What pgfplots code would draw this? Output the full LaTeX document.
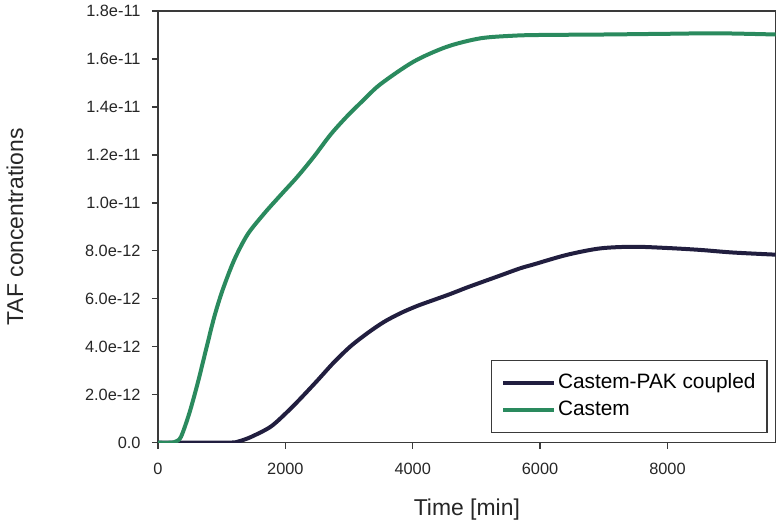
\documentclass[border=0pt]{standalone}
\usepackage{pgfplots}
\pgfplotsset{compat=1.18}
\usepackage{fontspec}
\setmainfont{Liberation Sans}
\definecolor{navyc}{HTML}{211E3F}
\definecolor{greenc}{HTML}{2A8A5E}
\definecolor{axc}{HTML}{3A3A3A}
\begin{document}
\begin{tikzpicture}
\begin{axis}[
  scale only axis, width=617.7bp, height=431.7bp,
  xmin=0, xmax=9700, ymin=0, ymax=1.8e-11,
  axis line style={axc, line width=1.3bp},
  tick style={axc, line width=1.3bp},
  tick align=outside, major tick length=6bp,
  xtick pos=bottom, ytick pos=left,
  xtick={0,2000,4000,6000,8000},
  xticklabels={0,2000,4000,6000,8000},
  ytick={0,2e-12,4e-12,6e-12,8e-12,1e-11,1.2e-11,1.4e-11,1.6e-11,1.8e-11},
  yticklabels={0.0,2.0e-12,4.0e-12,6.0e-12,8.0e-12,1.0e-11,1.2e-11,1.4e-11,1.6e-11,1.8e-11},
  ticklabel style={font=\fontsize{16.4}{18}\selectfont, text=black!85},
  yticklabel style={xshift=-8bp},
  xticklabel style={yshift=-10.5bp},
  xlabel={Time [min]}, ylabel={TAF concentrations},
  label style={font=\fontsize{23}{26}\selectfont, text=black!85},
  xlabel style={at={(axis description cs:0.5,-0.168)}, anchor=base},
  ylabel style={at={(axis description cs:-0.2315,0.5)}, anchor=center},
  legend style={at={(0.987,0.022)}, anchor=south east, draw=axc, line width=1.3bp,
    font=\fontsize{20.9}{22}\selectfont, inner xsep=9.5bp, inner ysep=10.5bp,
    nodes={inner sep=2bp, text height=15bp, text depth=5bp}, row sep=3bp},
  legend cell align=left,
  legend image code/.code={\draw[#1, line width=4bp] (0bp,0bp) -- (46bp,0bp); \path (0bp,0bp) -- (51bp,0bp);},
  every axis plot/.append style={line width=4bp},
]
\addplot[navyc, smooth] coordinates {
(0,0) (1000,0) (1223,0.02e-12) (1301,0.08e-12) (1470,0.25e-12) (1771,0.67e-12)
(2032,1.29e-12) (2241,1.85e-12) (2502,2.59e-12) (2762,3.35e-12) (3024,4.02e-12)
(3285,4.56e-12) (3545,5.03e-12) (3807,5.40e-12) (4068,5.70e-12) (4328,5.95e-12)
(4590,6.20e-12) (4851,6.47e-12) (5111,6.72e-12) (5373,6.97e-12) (5686,7.27e-12)
(5895,7.43e-12) (6417,7.83e-12) (6939,8.10e-12) (7461,8.17e-12) (7983,8.12e-12)
(8505,8.04e-12) (9026,7.93e-12) (9700,7.84e-12)
};
\addlegendentry{Castem-PAK coupled}
\addplot[greenc, smooth] coordinates {
(0,0) (200,0) (280,0.05e-12) (362,0.25e-12) (492,1.23e-12) (623,2.48e-12)
(753,3.87e-12) (884,5.25e-12) (1015,6.37e-12) (1197,7.62e-12) (1406,8.68e-12)
(1666,9.55e-12) (1928,10.33e-12) (2189,11.09e-12) (2449,11.93e-12) (2711,12.85e-12)
(2972,13.62e-12) (3232,14.30e-12) (3494,14.95e-12) (4015,15.89e-12) (4538,16.51e-12)
(5060,16.86e-12) (5581,16.97e-12) (6000,17.0e-12) (7000,17.02e-12) (8000,17.05e-12)
(8800,17.07e-12) (9700,17.02e-12)
};
\addlegendentry{Castem}
\end{axis}
\pgfresetboundingbox
\path[use as bounding box] ([xshift=-158bp,yshift=-78.3bp]current axis.south west) rectangle ([xshift=4.3bp,yshift=11bp]current axis.north east);
\end{tikzpicture}
\end{document}
